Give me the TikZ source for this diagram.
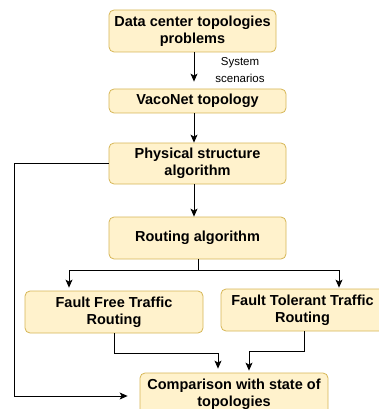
\documentclass[tikz,border=0pt]{standalone}
\usepackage{fontspec}
\setmainfont{Liberation Sans}
\usetikzlibrary{arrows.meta, positioning}

\definecolor{boxfill}{HTML}{FFF2CC}
\definecolor{boxline}{HTML}{D6B656}

\begin{document}
\begin{tikzpicture}[x=1pt, y=-1pt, >={Stealth[length=8pt, width=7pt, inset=2pt]}, line width=0.8pt,
        box/.style={draw=boxline, fill=boxfill, rounded corners=5pt, align=center, inner sep=0pt,
            font=\fontsize{14.5}{17}\selectfont\bfseries},
        lbl/.style={font=\fontsize{11.5}{17}\selectfont, align=center}]
        \useasboundingbox (0,0) rectangle (379,409);
        \clip (0,0) rectangle (379,409);

        \node[box, minimum width=167pt, minimum height=42pt] (dc)     at (192.5,31)  {Data center topologies\\problems};
        \node[box, minimum width=177pt, minimum height=24pt] (vaco)   at (197.5,101) {VacoNet topology};
        \node[box, minimum width=177pt, minimum height=41pt] (phys)   at (197.5,163.5) {Physical structure\\algorithm};
        \node[box, minimum width=177pt, minimum height=42pt] (route)  at (197.5,238) {Routing algorithm};
        \node[box, minimum width=178pt, minimum height=42pt] (ff)     at (114,312)   {Fault Free Traffic\\Routing};
        \node[box, minimum width=163pt, minimum height=42pt] (ft)     at (302.5,310) {Fault Tolerant Traffic\\Routing};
        \node[box, minimum width=188pt, minimum height=42pt] (comp)   at (234,394)   {Comparison with state of\\topologies};

        \coordinate (split) at (198,270);

        \draw[->, shorten >=7pt] ([xshift=1.5pt]dc.south) -- ([xshift=-3.5pt]vaco.north);
        \node[lbl] (scen) at (240,70.5) {System\\scenarios};
        \draw[->] ([xshift=-3.5pt]vaco.south) -- ([xshift=-3.5pt]phys.north);
        \draw[->] ([xshift=-3.5pt]phys.south) -- ([xshift=-3.5pt]route.north);
        \draw (route.south -| split) -- (split);
        \draw[->, shorten >=3pt] (split) -| ([xshift=-45pt]ff.north);
        \draw[->, shorten >=1pt] (split) -| ([xshift=36.5pt]ft.north);
        \draw[->, shorten >=4pt] (ff.south) -- ++(0,20) -| ([xshift=-16pt]comp.north);
        \draw[->, shorten >=2pt] ([xshift=1.5pt]ft.south) -- ++(0,20) -| ([xshift=15pt]comp.north);
        \draw[->, shorten >=12pt] (phys.west) -| (14.5,396) -- (comp.west |- 0,396);
\end{tikzpicture}
\end{document}
